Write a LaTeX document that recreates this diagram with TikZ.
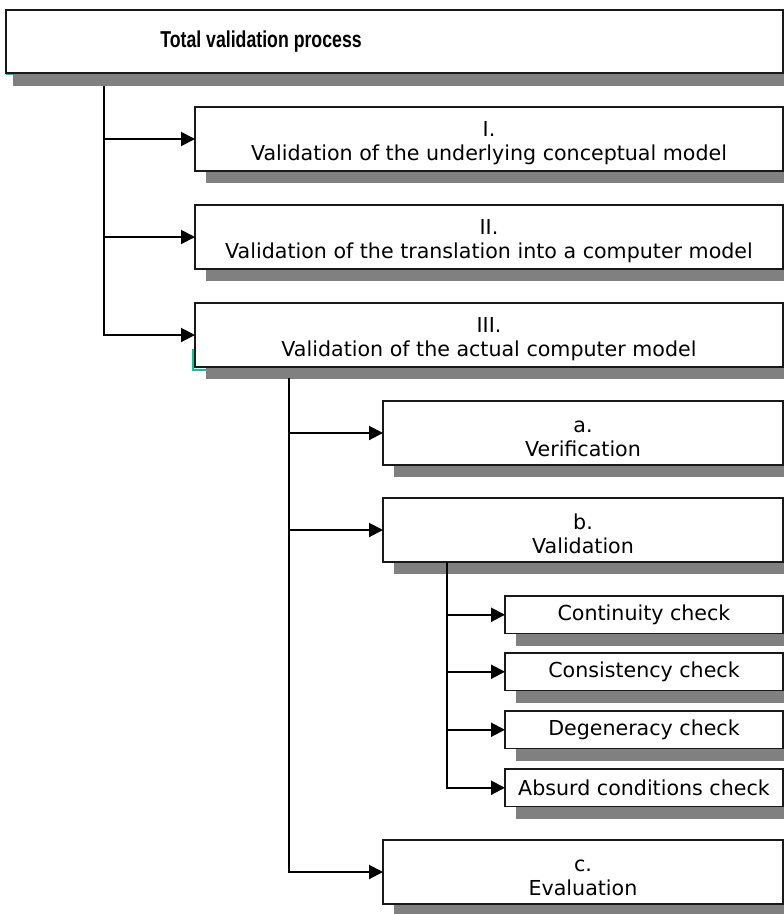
\documentclass[tikz,border=0pt]{standalone}
\usepackage{fontspec}
\setmainfont{DejaVu Sans}
\newfontfamily\titlefont{Liberation Sans}
\usetikzlibrary{arrows.meta,shadows}
\definecolor{shadowgray}{RGB}{128,128,128}
\definecolor{edgecol}{RGB}{25,25,25}
\definecolor{markcol}{RGB}{0,200,150}
\newcommand{\tstrut}{\rule{0pt}{23pt}}
\begin{document}
\begin{tikzpicture}[x=1pt,y=-1pt,
  boxbase/.style={draw=edgecol, line width=1.1pt, fill=white, inner sep=0pt, outer sep=0pt,
    anchor=north west, align=center, font=\fontsize{20.6}{24}\selectfont},
  shd/.style={drop shadow={shadow xshift=11pt, shadow yshift=-12pt, fill=shadowgray, opacity=1}},
  bigbox/.style={boxbase, shd, minimum width=588pt, minimum height=64pt},
  midbox/.style={boxbase, shd, minimum width=400pt, minimum height=64pt},
  smallbox/.style={boxbase, shd, minimum width=278pt, minimum height=37.5pt},
  conn/.style={line width=2pt, -{Triangle[length=14pt,width=14pt]}},
]
\clip (0,0) rectangle (784,914);
% top box
\node[boxbase, minimum width=777pt, minimum height=63pt,
  drop shadow={shadow xshift=7pt, shadow yshift=-13pt, fill=shadowgray, opacity=1}] (top) at (6,10) {};
\node[inner sep=0pt, font=\titlefont\bfseries\fontsize{23}{26}\selectfont] (title) at (261,42) {\scalebox{0.77}[1]{Total validation process}};
\draw[markcol, line width=1.2pt] (6,74.5) -- (13,74.5);

% level 1
\node[bigbox] (b1) at (195,107) {\tstrut I.\\Validation of the underlying conceptual model};
\node[bigbox] (b2) at (195,205) {\tstrut II.\\Validation of the translation into a computer model};
\node[bigbox] (b3) at (195,303) {\tstrut III.\\Validation of the actual computer model};
\draw[markcol, line width=1.2pt] (193,349) -- (193,370) -- (206,370);

% level 2
\node[midbox] (ba) at (383,401) {\tstrut a.\\Verification};
\node[midbox] (bb) at (383,498) {\tstrut b.\\Validation};
\node[midbox] (bc) at (383,840) {\tstrut c.\\Evaluation};

% level 3
\node[smallbox] (c1) at (505,596) {Continuity check};
\node[smallbox] (c2) at (505,653) {Consistency check};
\node[smallbox] (c3) at (505,711) {Degeneracy check};
\node[smallbox] (c4) at (505,769) {Absurd conditions check};

% junctions
\coordinate (j1) at (104,86);
\coordinate (j2) at (289,378);
\coordinate (j3) at (447,562);

\draw[conn] (j1) |- (b1.west);
\draw[conn] (j1) |- (b2.west);
\draw[conn] (j1) |- (b3.west);

\draw[conn] (j2) |- (ba.west);
\draw[conn] (j2) |- (bb.west);
\draw[conn] (j2) |- (bc.west);

\draw[conn] (j3) |- (c1.west);
\draw[conn] (j3) |- (c2.west);
\draw[conn] (j3) |- (c3.west);
\draw[conn] (j3) |- (c4.west);
\end{tikzpicture}
\end{document}
